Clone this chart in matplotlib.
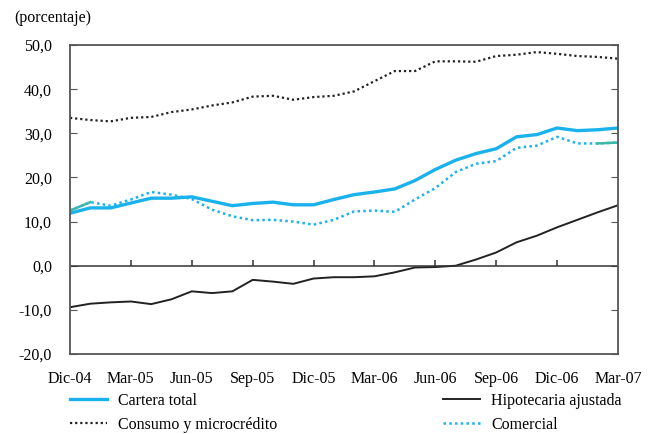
import numpy as np
import matplotlib.pyplot as plt
from matplotlib.lines import Line2D

plt.rcParams['font.family'] = ['Liberation Serif', 'DejaVu Serif']

meses = ["Dic-04", "Mar-05", "Jun-05", "Sep-05", "Dic-05", "Mar-06",
         "Jun-06", "Sep-06", "Dic-06", "Mar-07"]

cartera_total = [11.9, 13.1, 13.1, 14.2, 15.3, 15.3, 15.6, 14.6, 13.6, 14.1,
                 14.4, 13.8, 13.8, 15.0, 16.1, 16.7, 17.4, 19.3, 21.8, 23.9,
                 25.4, 26.5, 29.2, 29.7, 31.2, 30.6, 30.8, 31.2]
consumo = [33.5, 33.0, 32.7, 33.5, 33.7, 34.8, 35.4, 36.3, 37.0, 38.3,
           38.5, 37.6, 38.2, 38.5, 39.5, 41.8, 44.1, 44.1, 46.3, 46.3,
           46.2, 47.5, 47.8, 48.4, 48.0, 47.5, 47.3, 46.9]
comercial = [12.5, 14.4, 13.6, 15.0, 16.7, 16.1, 15.1, 12.7, 11.2, 10.3,
             10.4, 10.0, 9.3, 10.4, 12.3, 12.5, 12.2, 15.0, 17.6, 21.2,
             23.1, 23.7, 26.7, 27.2, 29.2, 27.7, 27.7, 27.9]
hipotecaria = [-9.4, -8.6, -8.3, -8.1, -8.7, -7.6, -5.8, -6.2, -5.8, -3.2,
               -3.6, -4.1, -2.9, -2.6, -2.6, -2.4, -1.5, -0.4, -0.3, 0.0,
               1.4, 3.0, 5.3, 6.8, 8.7, 10.4, 12.1, 13.7]

cyan = '#19b2ec'
teal = '#3cb8a8'
x = np.arange(len(cartera_total))

fig = plt.figure(figsize=(6.55, 4.34), dpi=100)
ax = fig.add_axes([0.1069, 0.1843, 0.8366, 0.712])

ax.plot(x, consumo, color='#222222', lw=1.6, ls=(0, (1, 1.3)))
ax.plot(x, comercial, color=cyan, lw=1.8, ls=(0, (1, 1.3)))
ax.plot(x[:2], comercial[:2], color=teal, lw=1.8)
ax.plot(x[-2:], comercial[-2:], color=teal, lw=1.8)
ax.plot(x, hipotecaria, color='#222222', lw=1.4)
ax.plot(x, cartera_total, color=cyan, lw=2.4)

ax.set_xlim(0, len(x) - 1)
ax.set_ylim(-20, 50)
ax.set_yticks(np.arange(-20, 51, 10))
ax.set_yticklabels([f"{v:.1f}".replace('.', ',') for v in np.arange(-20, 51, 10)],
                   fontsize=11.5)
ax.tick_params(axis='y', direction='in', length=5, right=True, color='#555555',
               pad=13)
tick_pos = np.arange(0, len(x), 3)
ax.set_xticks(tick_pos)
ax.set_xticklabels(meses, fontsize=11.5)
ax.tick_params(axis='x', length=0, pad=12)

# eje cero con marcas hacia arriba
ax.axhline(0, color='#333333', lw=1.1)
ax.vlines(tick_pos[1:-1], 0, 1.4, color='#333333', lw=1.1)

for s in ax.spines.values():
    s.set_color('#555555')
    s.set_linewidth(1.3)

fig.text(0.021, 0.958, "(porcentaje)", fontsize=11.5, va='center')

handles = [Line2D([], [], color=cyan, lw=2.4),
           Line2D([], [], color='#222222', lw=1.6, ls=(0, (1, 1.3))),
           Line2D([], [], color='#222222', lw=1.4),
           Line2D([], [], color=cyan, lw=1.8, ls=(0, (1, 1.3)))]
labels = ["Cartera total", "Consumo y microcrédito",
          "Hipotecaria ajustada", "Comercial"]
fig.legend(handles, labels, ncol=2, loc='upper left',
           bbox_to_anchor=(0.107, 0.095), frameon=False, fontsize=11.5,
           handlelength=2.3, columnspacing=10.4, labelspacing=0.5,
           borderpad=0, handletextpad=0.7, borderaxespad=0)

fig.savefig("out.png", dpi=100)
